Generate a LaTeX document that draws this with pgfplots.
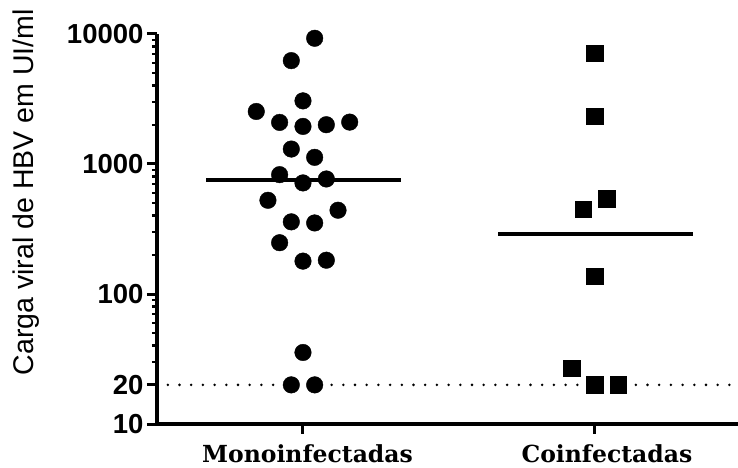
\documentclass[border=0pt]{standalone}
\usepackage{fontspec}
\setmainfont{Liberation Sans}
\newfontfamily\serifb{DejaVu Serif}
\usepackage{pgfplots}
\pgfplotsset{compat=1.18}
\begin{document}
\begin{tikzpicture}
\begin{axis}[
  at={(0,0)}, anchor=south west,
  scale only axis, width=581pt, height=390pt,
  xmin=0.5, xmax=2.49, ymin=10, ymax=10000,
  ymode=log,
  axis x line=bottom, axis y line=left,
  axis line style={line width=3.5pt, -},
  tick align=outside,
  major tick length=10pt, minor tick length=5pt,
  major tick style={line width=3pt, black},
  minor tick style={line width=2.5pt, black},
  ytick={10,20,100,1000,10000},
  yticklabels={10,20,100,1000,10000},
  minor ytick={30,40,50,60,70,80,90,200,300,400,500,600,700,800,900,2000,3000,4000,5000,6000,7000,8000,9000},
  xtick={1,2},
  xticklabels={\hspace*{9pt}Monoinfectadas,\hspace*{24pt}Coinfectadas},
  /pgf/number format/assume math mode=true,
  yticklabel style={font=\bfseries\fontsize{27.5}{27.5}\selectfont},
  xticklabel style={font=\serifb\bfseries\fontsize{23.5}{23.5}\selectfont, yshift=-7pt},
  ylabel={Carga viral de HBV em UI/ml},
  ylabel style={font=\fontsize{28.5}{28.5}\selectfont, at={(axis description cs:-0.225,0.594)}, anchor=center},
  clip=false,
]
\addplot[line width=2.8pt, line cap=round, dash pattern=on 0pt off 11.7pt] coordinates {(0.537,20) (2.49,20)};
\addplot[only marks, mark=*, mark size=8.3pt, mark options={fill=black, draw=black, line width=0.4pt}] coordinates {
(1.04,9270) (0.96,6240) (1.00,3060) (0.84,2535) (0.92,2090) (1.00,1945) (1.08,2005) (1.16,2100)
(0.96,1303) (1.04,1125) (0.92,828) (1.00,715) (1.08,767) (0.88,526) (1.12,441) (0.96,359)
(1.04,352) (0.92,248) (1.00,179) (1.08,182) (1.00,35.5) (0.96,20) (1.04,20)
};
\addplot[only marks, mark=square*, mark size=8.2pt, mark options={fill=black, draw=black, line width=0.5pt}] coordinates {
(2.00,7110) (2.00,2323) (2.04,542) (1.96,447) (2.00,137) (1.92,26.9) (2.00,20) (2.08,20)
};
\addplot[line width=4pt] coordinates {(0.668,759) (1.335,759)};
\addplot[line width=4pt] coordinates {(1.668,290) (2.336,290)};
\end{axis}
\pgfresetboundingbox
\path[use as bounding box] (-157pt,-43pt) rectangle (581pt,424pt);
\end{tikzpicture}
\end{document}
